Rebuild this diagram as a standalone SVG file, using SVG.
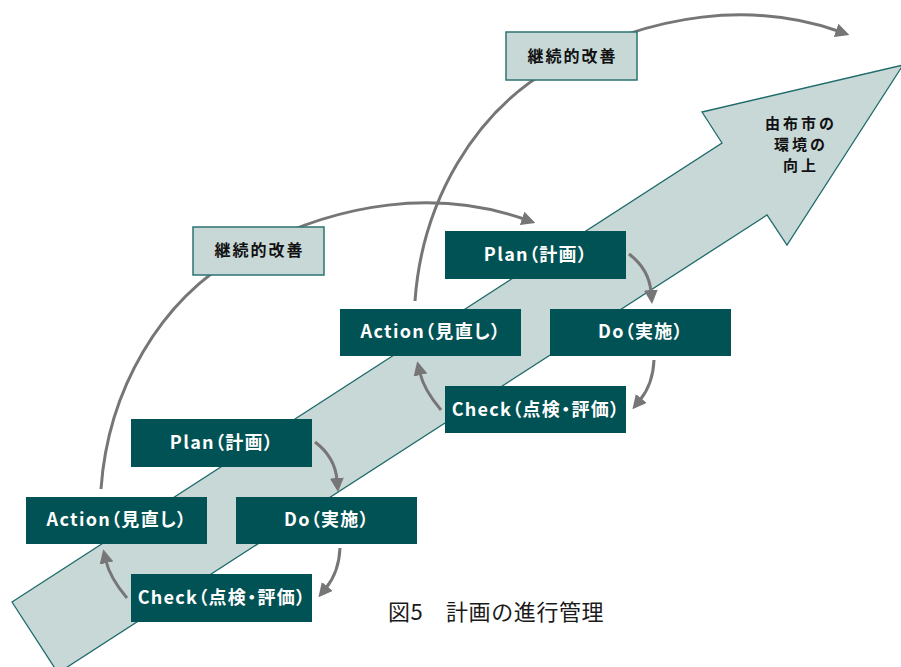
<svg xmlns="http://www.w3.org/2000/svg" width="901" height="667" viewBox="0 0 901 667">
<defs>
<style>
.bx{fill:#015254}
.bt{fill:#ffffff;font-family:"Noto Sans CJK JP","Noto Sans",sans-serif;font-weight:bold;font-size:18px;letter-spacing:1.3px;text-anchor:middle;font-feature-settings:"palt"}
.lb{fill:#c8d8d7;stroke:#2b7373;stroke-width:1.5}
.lt{fill:#111111;font-family:"Noto Sans CJK JP",sans-serif;font-weight:bold;font-size:16px;letter-spacing:2px;text-anchor:middle}
.at{fill:#111111;font-family:"Noto Sans CJK JP",sans-serif;font-weight:bold;font-size:15px;letter-spacing:3px;text-anchor:middle}
.cn{fill:none;stroke:#767676;stroke-width:3}
</style>
<marker id="ah" viewBox="0 0 14 14" refX="2" refY="7" markerWidth="14" markerHeight="14" markerUnits="userSpaceOnUse" orient="auto">
<path d="M0,0 L14,7 L0,14 z" fill="#767676"/>
</marker>
</defs>
<rect width="901" height="667" fill="#ffffff"/>
<g id="bigArrow">
<polygon points="12,602 722,143 702,112 903,65 787,245 767,215 58,673" fill="#c8d8d7" stroke="#1f6b6b" stroke-width="1.3"/>
<text class="at" x="801" y="128.5">由布市の</text>
<text class="at" x="801" y="149.5">環境の</text>
<text class="at" x="801" y="170.5">向上</text>
</g>
<g id="connectors">
<path class="cn" d="M101,489 C108,390 160,300 240,255 C340,199 440,190 524,219" marker-end="url(#ah)"/>
<path class="cn" d="M415,301 C422,202 474,112 554,67 C654,11 754,2 838,31" marker-end="url(#ah)"/>
<path class="cn" d="M315,442 Q335,457 337,480" marker-end="url(#ah)"/>
<path class="cn" d="M340,548 Q339,572 326,588" marker-end="url(#ah)"/>
<path class="cn" d="M127,598 Q110,578 106,561" marker-end="url(#ah)"/>
<path class="cn" d="M629,254 Q649,269 651,292" marker-end="url(#ah)"/>
<path class="cn" d="M654,360 Q653,384 640,400" marker-end="url(#ah)"/>
<path class="cn" d="M441,410 Q424,390 420,373" marker-end="url(#ah)"/>
</g>
<g id="kaizen1">
<rect class="lb" x="193" y="227" width="131" height="48"/>
<text class="lt" x="259.5" y="256">継続的改善</text>
</g>
<g id="kaizen2">
<rect class="lb" x="506" y="32" width="131" height="48"/>
<text class="lt" x="572.5" y="62">継続的改善</text>
</g>
<g id="plan1">
<rect class="bx" x="131" y="419" width="181" height="48"/>
<text class="bt" x="222" y="448.5">Plan（計画）</text>
</g>
<g id="action1">
<rect class="bx" x="26" y="497" width="181" height="47"/>
<text class="bt" x="117" y="526">Action（見直し）</text>
</g>
<g id="do1">
<rect class="bx" x="236" y="497" width="181" height="47"/>
<text class="bt" x="327" y="526">Do（実施）</text>
</g>
<g id="check1">
<rect class="bx" x="131" y="574" width="181" height="48"/>
<text class="bt" x="222" y="603.5">Check（点検・評価）</text>
</g>
<g id="plan2">
<rect class="bx" x="445" y="231" width="181" height="48"/>
<text class="bt" x="536" y="260.5">Plan（計画）</text>
</g>
<g id="action2">
<rect class="bx" x="340" y="309" width="181" height="47"/>
<text class="bt" x="431" y="338">Action（見直し）</text>
</g>
<g id="do2">
<rect class="bx" x="550" y="309" width="181" height="47"/>
<text class="bt" x="641" y="338">Do（実施）</text>
</g>
<g id="check2">
<rect class="bx" x="445" y="386" width="181" height="47"/>
<text class="bt" x="536" y="415.5">Check（点検・評価）</text>
</g>
<g id="caption">
<text x="388" y="620" fill="#1a1a1a" font-family="Noto Sans CJK JP, sans-serif" font-size="22" letter-spacing="0.6">図5　計画の進行管理</text>
</g>
</svg>
